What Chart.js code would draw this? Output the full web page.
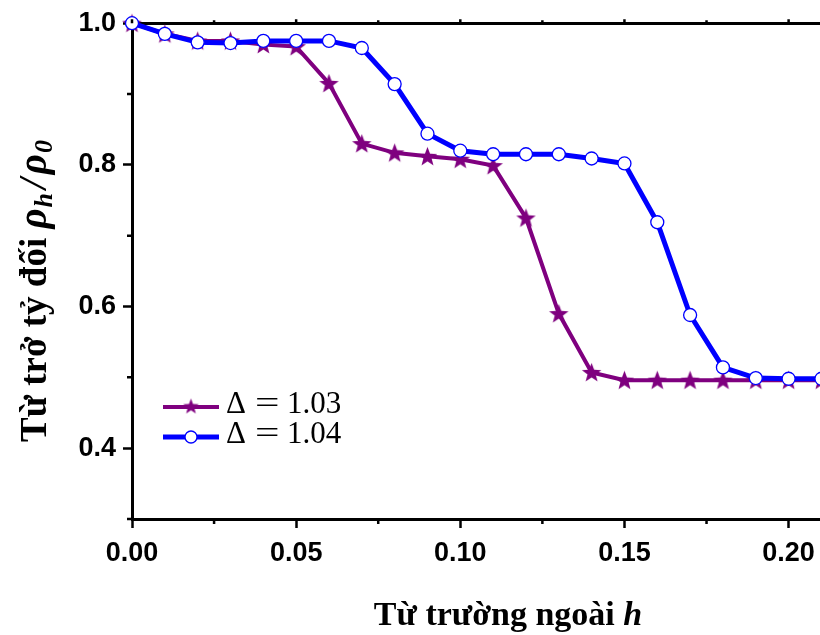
<!DOCTYPE html>
<html>
<head>
<meta charset="utf-8">
<script src="https://cdn.jsdelivr.net/npm/chart.js@4.4.1/dist/chart.umd.min.js"></script>
<style>
  html, body { margin: 0; padding: 0; background: #fff; overflow: hidden; }
  #wrap { width: 820px; height: 635px; overflow: hidden; }
  canvas { display: block; }
</style>
</head>
<body>
<div id="wrap"><canvas id="c" width="824" height="635"></canvas></div>
<script>
// External field h
const fieldH = [0.00, 0.01, 0.02, 0.03, 0.04, 0.05, 0.06, 0.07, 0.08, 0.09, 0.10,
                0.11, 0.12, 0.13, 0.14, 0.15, 0.16, 0.17, 0.18, 0.19, 0.20, 0.21];
// Relative resistivity rho_h / rho_0
const rhoDelta103 = [1.000, 0.985, 0.975, 0.975, 0.970, 0.967, 0.915, 0.830, 0.817, 0.812, 0.808,
                     0.799, 0.725, 0.590, 0.507, 0.496, 0.496, 0.496, 0.496, 0.496, 0.496, 0.496];
const rhoDelta104 = [1.000, 0.985, 0.973, 0.972, 0.975, 0.975, 0.975, 0.965, 0.914, 0.844, 0.820,
                     0.815, 0.815, 0.815, 0.809, 0.802, 0.719, 0.588, 0.514, 0.499, 0.498, 0.498];
const deltaValues = ['1.03', '1.04'];
// Axis ticks
const xMajorTicks = [0.00, 0.05, 0.10, 0.15, 0.20];
const xMinorTicks = [0.025, 0.075, 0.125, 0.175];
const yMajorTicks = [0.4, 0.6, 0.8, 1.0];
const yMinorTicks = [0.3, 0.5, 0.7, 0.9];

const PURPLE = '#7f007f';
const BLUE = '#0000ff';

// filled five-point star used as the marker of the first series
function makeStar(size, color) {
  const cv = document.createElement('canvas');
  cv.width = size; cv.height = size;
  const g = cv.getContext('2d');
  const cx = size / 2, cy = size / 2 + 0.8, R = size / 2 - 0.3, r = R * 0.42;
  g.beginPath();
  for (let i = 0; i < 10; i++) {
    const rad = i % 2 === 0 ? R : r;
    const a = -Math.PI / 2 + i * Math.PI / 5;
    const px = cx + rad * Math.cos(a), py = cy + rad * Math.sin(a);
    if (i === 0) g.moveTo(px, py); else g.lineTo(px, py);
  }
  g.closePath();
  g.fillStyle = color;
  g.fill();
  return cv;
}
const starImg = makeStar(21, PURPLE);
const legendStar = makeStar(17, PURPLE);

const SERIF = '"Liberation Serif", "Times New Roman", serif';
const SANS = '"Liberation Sans", Arial, sans-serif';

// draws a sequence of differently styled text pieces centred on x
function drawRuns(ctx, runs, x, y) {
  let w = 0;
  runs.forEach(r => { ctx.font = r.font; w += ctx.measureText(r.text).width + (r.gap || 0); });
  let cx = x - w / 2;
  runs.forEach(r => {
    ctx.font = r.font;
    ctx.fillText(r.text, cx, y + (r.dy || 0));
    cx += ctx.measureText(r.text).width + (r.gap || 0);
  });
}

const decorations = {
  id: 'decorations',
  afterDraw(chart) {
    const ctx = chart.ctx;
    const xs = chart.scales.x, ys = chart.scales.y, area = chart.chartArea;
    ctx.save();
    ctx.strokeStyle = '#000';
    ctx.lineWidth = 2.5;
    // minor ticks, plus the ticks of the top frame
    ctx.beginPath();
    xMinorTicks.forEach(v => {
      const px = xs.getPixelForValue(v);
      ctx.moveTo(px, area.bottom); ctx.lineTo(px, area.bottom + 5);
      ctx.moveTo(px, area.top); ctx.lineTo(px, area.top - 3);
    });
    xMajorTicks.forEach(v => {
      const px = xs.getPixelForValue(v);
      ctx.moveTo(px, area.top); ctx.lineTo(px, area.top - 4);
    });
    yMinorTicks.forEach(v => {
      const py = ys.getPixelForValue(v);
      ctx.moveTo(area.left, py); ctx.lineTo(area.left - 5, py);
    });
    ctx.stroke();

    // axis titles
    ctx.fillStyle = '#000';
    ctx.textBaseline = 'alphabetic';
    drawRuns(ctx, [
      { text: 'T\u1eeb tr\u01b0\u1eddng ngo\u00e0i ', font: 'bold 34px ' + SERIF },
      { text: 'h', font: 'italic bold 34px ' + SERIF }
    ], 508, 625);

    const yBold = 'bold 37px ' + SERIF;
    const yIt = 'italic bold 39px ' + SERIF;
    const ySub = 'italic bold 26px ' + SERIF;
    ctx.save();
    ctx.translate(46, 291);
    ctx.rotate(-Math.PI / 2);
    drawRuns(ctx, [
      { text: 'T\u1eeb tr\u1edf t\u1ef7 \u0111\u1ed1i ', font: yBold },
      { text: '\u03c1', font: yIt, gap: 1 },
      { text: 'h', font: ySub, dy: 6, gap: 4 },
      { text: '/', font: yIt, gap: 4 },
      { text: '\u03c1', font: yIt, gap: 1 },
      { text: '0', font: ySub, dy: 6 }
    ], 0, 0);
    ctx.restore();

    // legend
    const rows = [
      { ds: chart.data.datasets[1], y: 407 },
      { ds: chart.data.datasets[0], y: 437 }
    ];
    rows.forEach(row => {
      const ds = row.ds;
      ctx.strokeStyle = ds.borderColor;
      ctx.lineWidth = ds.borderWidth;
      ctx.beginPath();
      ctx.moveTo(163, row.y); ctx.lineTo(219, row.y);
      ctx.stroke();
      if (ds.pointStyle === 'circle') {
        ctx.beginPath();
        ctx.arc(191, row.y, 6, 0, Math.PI * 2);
        ctx.fillStyle = ds.pointBackgroundColor;
        ctx.fill();
        ctx.lineWidth = ds.pointBorderWidth;
        ctx.strokeStyle = ds.pointBorderColor;
        ctx.stroke();
      } else {
        ctx.drawImage(legendStar, 191 - 8.5, row.y - 9.5);
      }
      ctx.fillStyle = '#000';
      ctx.font = '31px ' + SERIF;
      ctx.textBaseline = 'alphabetic';
      const base = row.y + 6;
      ctx.fillText('\u0394', 226, base);
      // wide math-style equals sign
      ctx.save();
      ctx.translate(255, base);
      ctx.scale(1.4, 1);
      ctx.fillText('=', 0, 0);
      ctx.restore();
      ctx.fillText(ds.delta, 287, base);
    });
    ctx.restore();
  }
};

new Chart(document.getElementById('c'), {
  type: 'line',
  data: {
    datasets: [
      {
        label: '\u0394 = ' + deltaValues[1],
        delta: deltaValues[1],
        data: fieldH.map((h, i) => ({ x: h, y: rhoDelta104[i] })),
        borderColor: BLUE,
        borderWidth: 5,
        pointStyle: 'circle',
        pointRadius: 6.5,
        pointBackgroundColor: '#fff',
        pointBorderColor: BLUE,
        pointBorderWidth: 1.3,
        tension: 0,
        order: 0,
        clip: false
      },
      {
        label: '\u0394 = ' + deltaValues[0],
        delta: deltaValues[0],
        data: fieldH.map((h, i) => ({ x: h, y: rhoDelta103[i] })),
        borderColor: PURPLE,
        borderWidth: 4,
        pointStyle: starImg,
        pointRadius: 10,
        tension: 0,
        order: 1,
        clip: false
      }
    ]
  },
  options: {
    responsive: false,
    animation: false,
    devicePixelRatio: 1,
    layout: { autoPadding: false, padding: { left: 0, right: 2, top: 0, bottom: 0 } },
    plugins: { legend: { display: false }, tooltip: { enabled: false } },
    scales: {
      x: {
        type: 'linear',
        position: 'bottom',
        min: 0, max: 0.21,
        afterBuildTicks: s => { s.ticks = xMajorTicks.map(v => ({ value: v })); },
        afterFit: s => { s.height = 116; },
        ticks: {
          callback: v => v.toFixed(2),
          font: { family: SANS, size: 27, weight: 'bold' },
          color: '#000',
          padding: 9,
          maxRotation: 0
        },
        grid: { drawOnChartArea: false, drawTicks: true, tickLength: 9, tickWidth: 2.5, tickColor: '#000' },
        border: { display: true, color: '#000', width: 3 }
      },
      xTop: {
        type: 'linear',
        position: 'top',
        min: 0, max: 0.21,
        afterFit: s => { s.height = 20; },
        ticks: { display: false },
        grid: { display: false },
        border: { display: true, color: '#000', width: 3 }
      },
      y: {
        type: 'linear',
        min: 0.3, max: 1.0,
        afterBuildTicks: s => { s.ticks = yMajorTicks.map(v => ({ value: v })); },
        afterFit: s => { s.width = 132; },
        ticks: {
          callback: v => v.toFixed(1),
          font: { family: SANS, size: 27, weight: 'bold' },
          color: '#000',
          padding: 7
        },
        grid: { drawOnChartArea: false, drawTicks: true, tickLength: 9, tickWidth: 2.5, tickColor: '#000' },
        border: { display: true, color: '#000', width: 3 }
      }
    }
  },
  plugins: [decorations]
});
</script>
</body>
</html>
